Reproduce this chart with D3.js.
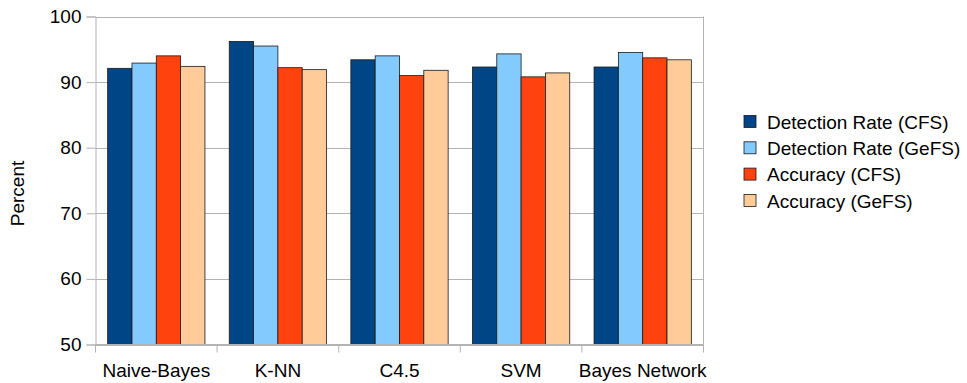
<!DOCTYPE html>
<html>
<head>
<meta charset="utf-8">
<script src="https://cdn.jsdelivr.net/npm/d3@7/dist/d3.min.js"></script>
<style>
  html, body { margin: 0; padding: 0; background: #fff; }
  svg { display: block; font-family: "Liberation Sans", Arial, sans-serif; }
</style>
</head>
<body>
<svg id="chart" width="967" height="383"></svg>
<script>
const categories = ["Naive-Bayes", "K-NN", "C4.5", "SVM", "Bayes Network"];
const seriesNames = ["Detection Rate (CFS)", "Detection Rate (GeFS)", "Accuracy (CFS)", "Accuracy (GeFS)"];
const detectionCFS  = [92.1, 96.2, 93.4, 92.3, 92.3];
const detectionGeFS = [92.9, 95.5, 94.0, 94.3, 94.5];
const accuracyCFS   = [94.0, 92.2, 91.0, 90.8, 93.7];
const accuracyGeFS  = [92.4, 91.9, 91.8, 91.4, 93.4];
const yTicks = [50, 60, 70, 80, 90, 100];
const colors = ["#004586", "#83caff", "#ff420e", "#ffcc99"];

const seriesValues = [detectionCFS, detectionGeFS, accuracyCFS, accuracyGeFS];

(function () {
const svg = d3.select("#chart");
const pl = 95.5, pr = 703.5, pt = 16.5, pb = 344.5;
const fs = 19;

const x0 = d3.scaleBand().domain(categories).range([pl, pr]).paddingInner(0.2).paddingOuter(0.1);
const x1 = d3.scaleBand().domain(seriesNames).range([0, x0.bandwidth()]);
const y = d3.scaleLinear().domain([50, 100]).range([pb, pt]);

// gridlines
svg.append("g").selectAll("line").data(yTicks).join("line")
  .attr("x1", pl).attr("x2", pr)
  .attr("y1", d => Math.round(y(d)) + 0.5).attr("y2", d => Math.round(y(d)) + 0.5)
  .attr("stroke", "#b3b3b3").attr("stroke-width", 1);

// right border
svg.append("line").attr("x1", pr).attr("x2", pr).attr("y1", pt).attr("y2", pb)
  .attr("stroke", "#b3b3b3");

// bars
const groups = svg.append("g").selectAll("g").data(categories).join("g")
  .attr("transform", d => `translate(${x0(d)},0)`);
groups.selectAll("rect")
  .data((c, i) => seriesNames.map((s, j) => ({ s, j, v: seriesValues[j][i] })))
  .join("rect")
  .attr("x", d => x1(d.s))
  .attr("width", x1.bandwidth())
  .attr("y", d => y(d.v))
  .attr("height", d => y(50) - y(d.v))
  .attr("fill", d => colors[d.j])
  .attr("stroke", "#1a1a1a")
  .attr("stroke-width", 0.8);

// y axis
const yAxis = d3.axisLeft(y).tickValues(yTicks).tickSize(9).tickPadding(5).tickFormat(d3.format("d"));
const gy = svg.append("g").attr("transform", `translate(${pl},0)`).call(yAxis);
gy.select(".domain").attr("stroke", "#b3b3b3");
gy.selectAll(".tick line").attr("stroke", "#b3b3b3");
gy.selectAll(".tick text").attr("font-size", fs).attr("fill", "#000")
  .attr("font-family", "Liberation Sans, Arial, sans-serif");

// x axis: ticks at category boundaries
const boundaries = categories.map(c => x0(c) - x0.step() * x0.paddingInner() / 2)
  .concat([pr]);
svg.append("line").attr("x1", pl).attr("x2", pr).attr("y1", pb).attr("y2", pb)
  .attr("stroke", "#b3b3b3");
svg.append("g").selectAll("line").data(boundaries).join("line")
  .attr("x1", d => d).attr("x2", d => d)
  .attr("y1", pb).attr("y2", pb + 8)
  .attr("stroke", "#b3b3b3");
svg.append("g").selectAll("text").data(categories).join("text")
  .attr("x", d => x0(d) + x0.bandwidth() / 2)
  .attr("y", 377)
  .attr("text-anchor", "middle")
  .attr("font-size", fs)
  .attr("fill", "#000")
  .text(d => d);

// y label
svg.append("text")
  .attr("transform", `translate(24,${(pt + pb) / 2 + 13}) rotate(-90)`)
  .attr("text-anchor", "middle")
  .attr("font-size", fs)
  .attr("fill", "#000")
  .text("Percent");

// legend
const legend = svg.append("g").selectAll("g").data(seriesNames).join("g")
  .attr("transform", (d, i) => `translate(744,${122 + i * 26.3})`);
legend.append("rect")
  .attr("x", 0).attr("y", -6.5).attr("width", 12).attr("height", 12)
  .attr("fill", (d, i) => colors[i]).attr("stroke", "#1a1a1a").attr("stroke-width", 0.8);
legend.append("text")
  .attr("x", 23).attr("y", 0).attr("dy", "0.35em")
  .attr("font-size", fs).attr("fill", "#000")
  .text(d => d);
})();
</script>
</body>
</html>
